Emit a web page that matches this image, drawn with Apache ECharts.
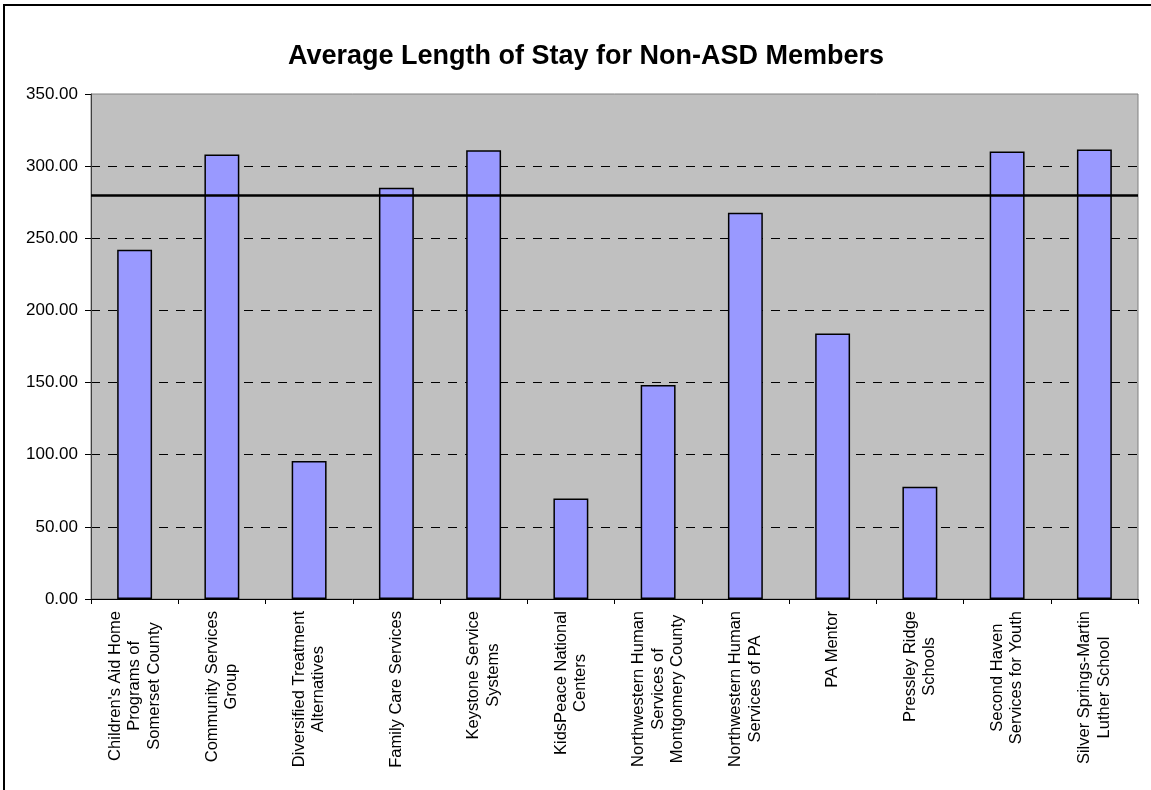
<!DOCTYPE html>
<html>
<head>
<meta charset="utf-8">
<script src="https://cdn.jsdelivr.net/npm/echarts@6/dist/echarts.min.js"></script>
<style>
html,body{margin:0;padding:0;background:#fff;}
#chart{width:1151px;height:790px;}
</style>
</head>
<body>
<div id="chart"></div>
<script>
var categories = [
  "Children's Aid Home\nPrograms of\nSomerset County",
  "Community Services\nGroup",
  "Diversified Treatment\nAlternatives",
  "Family Care Services",
  "Keystone Service\nSystems",
  "KidsPeace National\nCenters",
  "Northwestern Human\nServices of\nMontgomery County",
  "Northwestern Human\nServices of PA",
  "PA Mentor",
  "Pressley Ridge\nSchools",
  "Second Haven\nServices for Youth",
  "Silver Springs-Martin\nLuther School"
];
var values = [242, 308, 95.6, 285, 311, 69.7, 148.3, 267.7, 184, 77.8, 310.2, 311.6];
var referenceValue = 280;
var yTicks = [0, 50, 100, 150, 200, 250, 300, 350];
var titleText = "Average Length of Stay for Non-ASD Members";

var chart = echarts.init(document.getElementById('chart'));
var font = 'Arial, "Liberation Sans", sans-serif';
chart.setOption({
  backgroundColor: '#ffffff',
  animation: false,
  title: {
    text: titleText,
    left: 581,
    textAlign: 'center',
    top: 38,
    textStyle: {fontFamily: font, fontSize: 27, fontWeight: 'bold', color: '#000'}
  },
  graphic: [{
    type: 'rect',
    shape: {x: 4, y: 5, width: 1300, height: 1000},
    style: {fill: 'none', stroke: '#000', lineWidth: 2},
    silent: true
  }],
  grid: {
    left: 91, right: 13, top: 94, bottom: 191,
    show: true, backgroundColor: '#C0C0C0', borderColor: '#808080', borderWidth: 1,
    containLabel: false
  },
  xAxis: {
    type: 'category',
    data: categories,
    axisLine: {lineStyle: {color: '#000', width: 1}},
    axisTick: {show: true, alignWithLabel: false, length: 5, lineStyle: {color: '#000'}},
    axisLabel: {
      interval: 0,
      rotate: 90,
      margin: 12,
      fontFamily: font,
      fontSize: 16.5,
      color: '#000',
      formatter: function (v) {
        return v.split('\n').map(function (l) { return '{c|' + l + '}'; }).join('\n');
      },
      rich: {c: {align: 'center', fontFamily: font, fontSize: 16.5, lineHeight: 19.5, color: '#000'}}
    }
  },
  yAxis: {
    type: 'value',
    min: yTicks[0],
    max: yTicks[yTicks.length - 1],
    interval: 50,
    axisLine: {show: true, lineStyle: {color: '#404040', width: 1}},
    axisTick: {show: true, length: 6, lineStyle: {color: '#000'}},
    axisLabel: {
      fontFamily: font, fontSize: 17, color: '#000', margin: 13,
      formatter: function (v) { return v.toFixed(2); }
    },
    splitLine: {show: true, showMinLine: false, showMaxLine: false, lineStyle: {color: '#000', type: [9, 8], width: 1}}
  },
  series: [{
    type: 'bar',
    data: values,
    barWidth: '40%',
    itemStyle: {color: '#9999FF', borderColor: '#000', borderWidth: 1.5},
    markLine: {
      silent: true,
      symbol: 'none',
      label: {show: false},
      lineStyle: {color: '#000', width: 2.5, type: 'solid'},
      data: [{yAxis: referenceValue}]
    }
  }]
});
</script>
</body>
</html>
